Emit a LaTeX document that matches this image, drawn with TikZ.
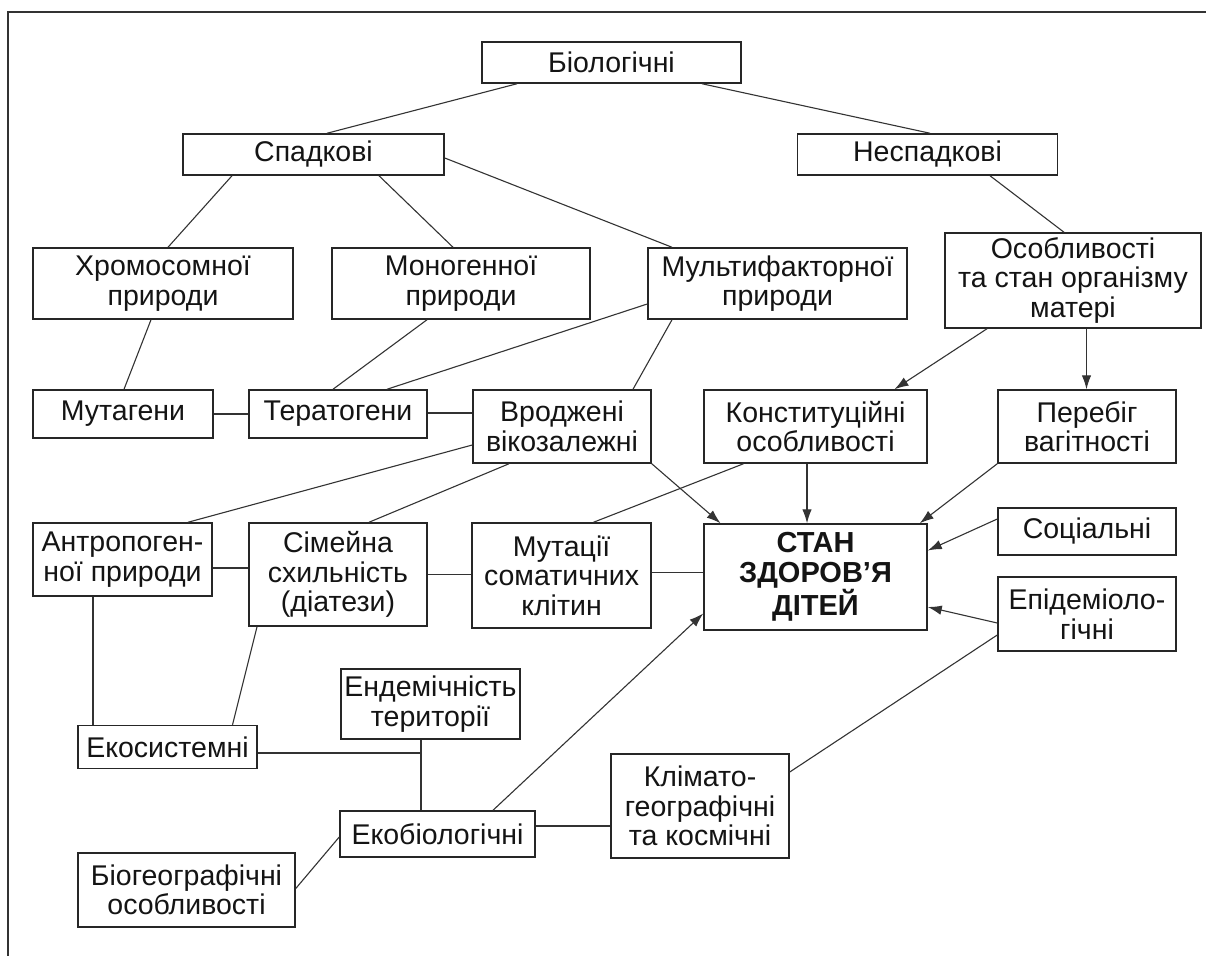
\documentclass[tikz,border=0pt]{standalone}
\usepackage{fontspec}
\setmainfont{Liberation Sans}
\usetikzlibrary{arrows.meta,calc}
\begin{document}
\begin{tikzpicture}[x=1pt,y=-1pt,
  box/.style={draw=black!85, line width=1.5pt, inner sep=1pt, align=center, text=black!92,
    font=\fontsize{28.5}{29.5}\selectfont},
  ln/.style={draw=black!80, line width=1.1pt},
  ar/.style={ln, -{Latex[length=14pt,width=9.5pt]}}]
\useasboundingbox (0,0) rectangle (1206,955);
\fill[white] (0,0) rectangle (1206,955);
\draw[line width=1.3pt, black!80] (8,958) -- (8,12) -- (1210,12);
% nodes
\node[box, minimum width=259pt, minimum height=41pt] (bio) at (611.5,62.5) {Біологічні};
\node[box, minimum width=261pt, minimum height=41pt] (spad) at (313.5,154.5) {Спадкові};
\node[box, minimum width=260pt, minimum height=41pt] (nespad) at (927.5,154.5) {Неспадкові};
\node[box, minimum width=260pt, minimum height=71pt] (chrom) at (163,283.5) {Хромосомної\\природи};
\node[box, minimum width=258pt, minimum height=71pt] (mono) at (461,283.5) {Моногенної\\природи};
\node[box, minimum width=259pt, minimum height=71pt] (multi) at (777.5,283.5) {Мультифакторної\\природи};
\node[box, minimum width=256pt, minimum height=95pt] (osob) at (1073,280.5) {Особливості\\та стан організму\\матері};
\node[box, minimum width=180pt, minimum height=48pt] (mutag) at (123,414) {Мутагени};
\node[box, minimum width=178pt, minimum height=48pt] (terat) at (338,414) {Тератогени};
\node[box, minimum width=178pt, minimum height=73pt] (vrodz) at (562,426.5) {Вроджені\\вікозалежні};
\node[box, minimum width=223pt, minimum height=73pt] (konst) at (815.5,426.5) {Конституційні\\особливості};
\node[box, minimum width=178pt, minimum height=73pt] (pereb) at (1087,426.5) {Перебіг\\вагітності};
\node[box, minimum width=179pt, minimum height=73pt] (antrop) at (122.5,559.5) {Антропоген-\\ної природи};
\node[box, minimum width=178pt, minimum height=103pt] (simei) at (338,574.5) {Сімейна\\схильність\\(діатези)};
\node[box, minimum width=179pt, minimum height=105pt] (mutac) at (561.5,575.5) {Мутації\\соматичних\\клітин};
\node[box, minimum width=223pt, minimum height=106pt, font=\fontsize{29}{30}\selectfont\bfseries] (stan) at (815.5,577) {СТАН\\ЗДОРОВ’Я\\ДІТЕЙ};
\node[box, minimum width=178pt, minimum height=47pt] (social) at (1087,531.5) {Соціальні};
\node[box, minimum width=178pt, minimum height=74pt] (epid) at (1087,614) {Епідеміоло-\\гічні};
\node[box, minimum width=179pt, minimum height=70pt] (endem) at (430.5,704) {Ендемічність\\території};
\node[box, minimum width=179pt, minimum height=43pt] (ekosys) at (167.5,747) {Екосистемні};
\node[box, minimum width=195pt, minimum height=46pt] (ekobio) at (437.5,834) {Екобіологічні};
\node[box, minimum width=217pt, minimum height=74pt] (biogeo) at (186.5,890) {Біогеографічні\\особливості};
\node[box, minimum width=178pt, minimum height=104pt] (klimat) at (700,806) {Клімато-\\географічні\\та космічні};
% helper coordinates
\coordinate (c1) at ([yshift=-8.5pt]antrop.east);
\coordinate (c2) at ([xshift=-29.5pt]antrop.south);
\coordinate (c3) at ([yshift=1pt]terat.east);
\coordinate (e1) at ([xshift=-9.5pt]endem.south);
\coordinate (k1) at ([yshift=-6pt]ekosys.east);
\coordinate (m1) at ([yshift=8pt]ekobio.east);
\coordinate (s1) at ([yshift=3pt]mutac.east);
% connectors
\draw[ln] ([xshift=-94.5pt]bio.south) -- ([xshift=13.5pt]spad.north);
\draw[ln] ([xshift=90.5pt]bio.south) -- ([xshift=2.5pt]nespad.north);
\draw[ln] ([xshift=-81.5pt]spad.south) -- ([xshift=5pt]chrom.north);
\draw[ln] ([xshift=65.5pt]spad.south) -- ([xshift=-8pt]mono.north);
\draw[ln] ([yshift=-3.5pt]spad.east) -- ([xshift=-105.5pt]multi.north);
\draw[ln] ([xshift=62.5pt]nespad.south) -- ([xshift=-9pt]osob.north);
\draw[ln] ([xshift=-12pt]chrom.south) -- ([xshift=1pt]mutag.north);
\draw[ln] ([xshift=-34pt]mono.south) -- ([xshift=-5pt]terat.north);
\draw[ln] ([yshift=-20.5pt]multi.west) -- ([xshift=49pt]terat.north);
\draw[ln] ([xshift=-105.5pt]multi.south) -- ([xshift=71pt]vrodz.north);
\draw[ln] (mutag.east) -- (terat.west);
\draw[ln] (c3) -- (c3 -| vrodz.west);
\draw[ln] ([yshift=-18.5pt]vrodz.west) -- ([xshift=65.5pt]antrop.north);
\draw[ln] ([xshift=-53pt]vrodz.south) -- ([xshift=31pt]simei.north);
\draw[ar] ([xshift=-86pt]osob.south) -- ([xshift=79pt]konst.north);
\draw[ar] ([xshift=13.5pt]osob.south) -- ([xshift=-0.5pt]pereb.north);
\draw[ar] (vrodz.south east) -- ([xshift=-95pt]stan.north);
\draw[ar] ([xshift=-8.5pt]konst.south) -- ([xshift=-8.5pt]stan.north);
\draw[ar] (pereb.south west) -- ([xshift=-8pt]stan.north east);
\draw[ln] ([xshift=-72pt]konst.south) -- ([xshift=32pt]mutac.north);
\draw[ln] (c1) -- (c1 -| simei.west);
\draw[ln] (simei.east) -- (simei.east -| mutac.west);
\draw[ln] (s1) -- (s1 -| stan.west);
\draw[ln] (c2) -- (c2 |- ekosys.north);
\draw[ln] ([xshift=-81pt]simei.south) -- ([xshift=65pt]ekosys.north);
\draw[ln] (e1) -- (e1 |- ekobio.north);
\draw[ln] (k1) -- (k1 -| e1);
\draw[ln] ([yshift=1.5pt]biogeo.east) -- ([yshift=-3pt]ekobio.west);
\draw[ln] (m1) -- (m1 -| klimat.west);
\draw[ar] ([xshift=55.5pt]ekobio.north) -- ([yshift=-36.5pt]stan.west);
\draw[ar] ([yshift=12.5pt]social.west) -- ([yshift=26.5pt]stan.east);
\draw[ar] ([yshift=-9pt]epid.west) -- ([yshift=-30pt]stan.east);
\draw[ln] ([yshift=-21pt]epid.west) -- ([yshift=34pt]klimat.east);
\end{tikzpicture}
\end{document}
